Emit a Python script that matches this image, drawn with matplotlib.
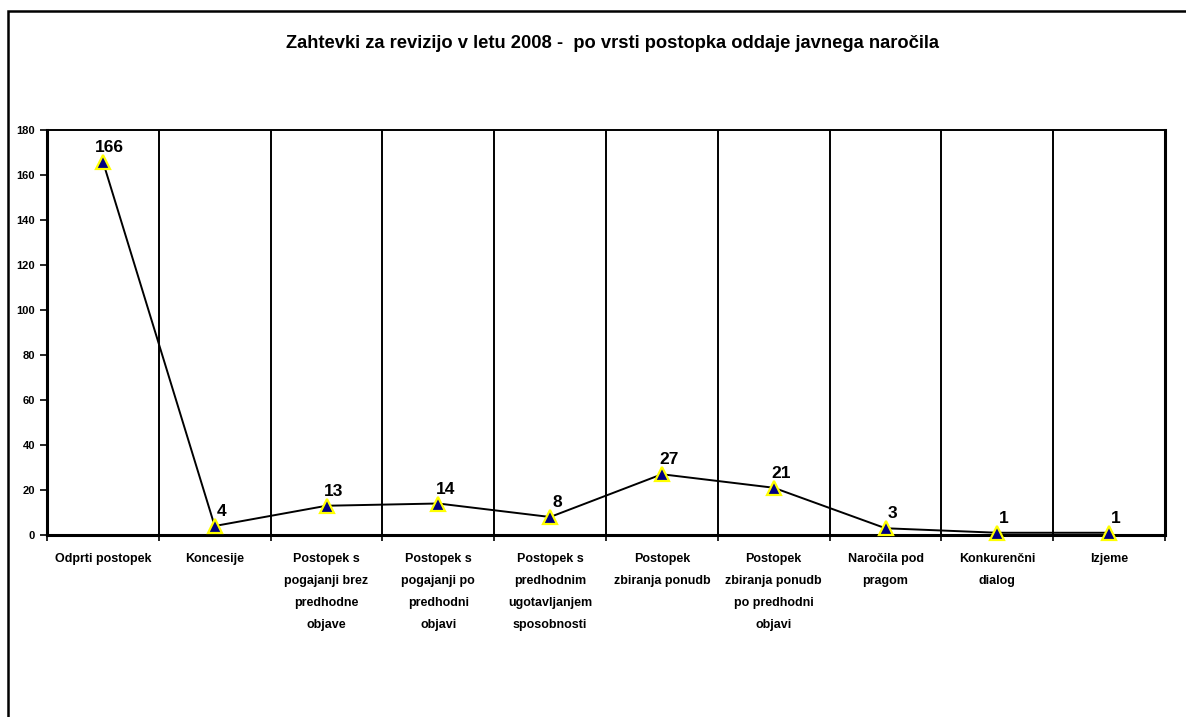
import matplotlib
matplotlib.use("Agg")
import matplotlib.pyplot as plt
from matplotlib.patches import Rectangle
import numpy as np

plt.rcParams["font.family"] = ["Liberation Sans", "DejaVu Sans"]

# Data
categories = [
    "Odprti postopek",
    "Koncesije",
    "Postopek s\npogajanji brez\npredhodne\nobjave",
    "Postopek s\npogajanji po\npredhodni\nobjavi",
    "Postopek s\npredhodnim\nugotavljanjem\nsposobnosti",
    "Postopek\nzbiranja ponudb",
    "Postopek\nzbiranja ponudb\npo predhodni\nobjavi",
    "Naročila pod\npragom",
    "Konkurenčni\ndialog",
    "Izjeme",
]
counts = [166, 4, 13, 14, 8, 27, 21, 3, 1, 1]
y_ticks = list(range(0, 181, 20))
title = "Zahtevki za revizijo v letu 2008 -  po vrsti postopka oddaje javnega naročila"

fig = plt.figure(figsize=(11.86, 7.17), dpi=100)

# outer chart frame (only top and left edges visible)
fig.patches.append(Rectangle((8 / 1186, -0.1), 1.2, 1 - 11 / 717 + 0.1,
                             transform=fig.transFigure, fill=False,
                             edgecolor="black", linewidth=1.8))

ax = fig.add_axes([47 / 1186, 1 - 535 / 717, (1165 - 47) / 1186, (535 - 130) / 717])

x = np.arange(len(categories))
ax.plot(x, counts, color="black", linewidth=1.4, marker="^", markersize=9.5,
        markerfacecolor="#000080", markeredgecolor="#ffff00", markeredgewidth=1.6,
        zorder=5, clip_on=False)

for xi, val in zip(x, counts):
    ax.annotate(str(val), (xi, val), xytext=(5, 5), textcoords="offset points",
                ha="center", va="bottom", fontsize=12.5, fontweight="bold")

ax.set_xlim(-0.5, len(categories) - 0.5)
ax.set_ylim(0, 180)
ax.set_yticks(y_ticks)
ax.set_xticks(x)
ax.set_xticklabels(categories, fontsize=9, fontweight="bold", linespacing=2.1, va="top")
ax.tick_params(axis="x", length=0, pad=13)
ax.tick_params(axis="y", length=5, width=1.2, labelsize=8)
for lbl in ax.get_yticklabels():
    lbl.set_fontweight("bold")

# vertical separators between categories
bounds = np.arange(-0.5, len(categories), 1.0)
ax.set_xticks(bounds, minor=True)
ax.tick_params(axis="x", which="minor", length=4, width=1.2, direction="out")
for b in bounds[1:-1]:
    ax.axvline(b, color="black", linewidth=1.4, zorder=1)

for side in ["left", "right", "bottom"]:
    ax.spines[side].set_linewidth(2.2)
ax.spines["top"].set_linewidth(1.4)

fig.text(613 / 1186, 1 - 43 / 717, title, ha="center", va="center",
         fontsize=13.2, fontweight="bold")

fig.savefig("out.png", dpi=100)
